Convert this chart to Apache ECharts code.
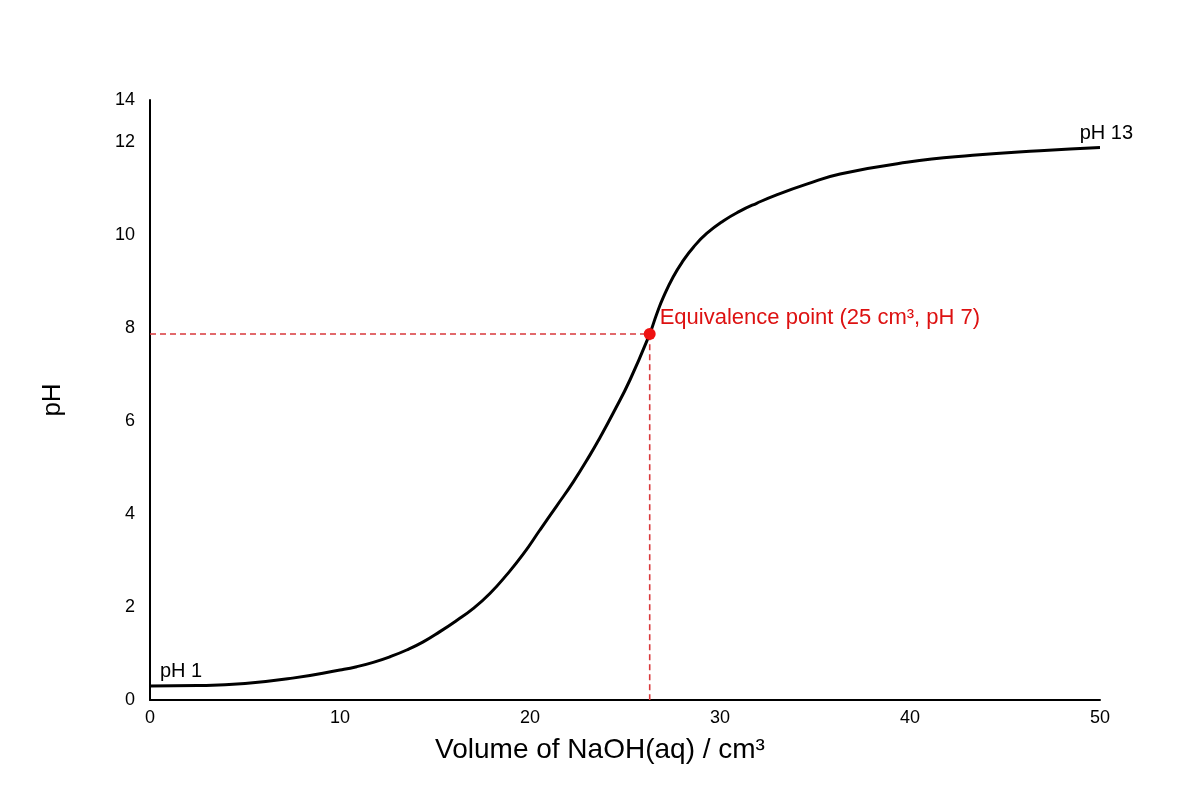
<!DOCTYPE html>
<html>
<head>
<meta charset="utf-8">
<script src="https://cdn.jsdelivr.net/npm/echarts@6/dist/echarts.min.js"></script>
<style>
  html, body { margin: 0; padding: 0; background: #fff; }
  #titrationChart { width: 1200px; height: 800px; }
</style>
</head>
<body>
<div id="titrationChart"></div>
<script>
// volume of NaOH added (cm3) and pH
var volumes = [0, 2.5, 5, 7.5, 10, 10.88, 11.75, 12.63, 13.51, 14.38, 15.26, 16.14, 17.02, 17.89, 18.77, 19.65, 20.53, 21.4, 22.28, 23.16, 23.68, 24.38, 25.26, 26.3, 26.67, 27.02, 27.54, 28.07, 28.59, 29.3, 30.17, 31.05, 31.93, 32.98, 34.56, 36.32, 39.83, 43.3, 46.84, 50];
var phValues = [0.30, 0.31, 0.355, 0.47, 0.645, 0.716, 0.81, 0.93, 1.075, 1.25, 1.47, 1.71, 1.97, 2.29, 2.69, 3.14, 3.66, 4.17, 4.69, 5.27, 5.64, 6.17, 6.88, 7.87, 8.30, 8.66, 9.10, 9.45, 9.73, 10.03, 10.30, 10.51, 10.68, 10.86, 11.09, 11.31, 11.56, 11.71, 11.81, 11.88];

// equivalence point as drawn
var equivPoint = [26.3, 7.87];
var equivText = 'Equivalence point (25 cm³, pH 7)';

var startText = 'pH 1';
var endText = 'pH 13';

var yMax = 12.9;
var yTopLabel = '14';

var curveData = volumes.map(function (v, i) { return [v, phValues[i]]; });

var titrationChart = echarts.init(document.getElementById('titrationChart'));
var titrationOption = {
    animation: false,
    textStyle: {
        fontFamily: 'Liberation Sans, Arial, sans-serif'
    },
    grid: {
        left: 150,
        right: 100,
        top: 100,
        bottom: 100
    },
    xAxis: {
        type: 'value',
        min: 0,
        max: 50,
        interval: 10,
        name: 'Volume of NaOH(aq) / cm³',
        nameLocation: 'middle',
        nameGap: 36,
        nameTextStyle: {
            fontSize: 28,
            color: '#000',
            padding: [0, 50, 0, 0]
        },
        axisLine: {
            onZero: false,
            lineStyle: {color: '#000', width: 2}
        },
        axisTick: {show: false},
        splitLine: {show: false},
        axisLabel: {
            fontSize: 18,
            color: '#000',
            margin: 9
        }
    },
    yAxis: {
        type: 'value',
        min: 0,
        max: yMax,
        interval: 2,
        name: 'pH',
        nameLocation: 'middle',
        nameGap: 84,
        nameTextStyle: {
            fontSize: 26,
            color: '#000'
        },
        axisLine: {
            show: true,
            onZero: false,
            lineStyle: {color: '#000', width: 2}
        },
        axisTick: {show: false},
        splitLine: {show: false},
        axisLabel: {
            fontSize: 18,
            color: '#000',
            margin: 15,
            formatter: function (v) {
                return v > 12 ? yTopLabel : String(v);
            }
        }
    },
    series: [
        {
            name: 'guides',
            type: 'line',
            data: [[0, equivPoint[1]], equivPoint, [equivPoint[0], 0]],
            symbol: 'none',
            silent: true,
            lineStyle: {color: '#d9393c', width: 1.6, type: [6, 4]},
            z: 1
        },
        {
            name: 'pH',
            type: 'line',
            smooth: 0.5,
            data: curveData,
            symbol: 'none',
            lineStyle: {color: '#000', width: 3},
            z: 2
        },
        {
            name: 'ends',
            type: 'scatter',
            symbolSize: 0,
            silent: true,
            itemStyle: {opacity: 1},
            data: [
                {
                    value: curveData[0],
                    label: {
                        show: true,
                        formatter: startText,
                        position: [10, -15],
                        align: 'left',
                        verticalAlign: 'middle',
                        fontSize: 20,
                        color: '#000'
                    }
                },
                {
                    value: curveData[curveData.length - 1],
                    label: {
                        show: true,
                        formatter: endText,
                        position: [33, -14],
                        align: 'right',
                        verticalAlign: 'middle',
                        fontSize: 20,
                        color: '#000'
                    }
                }
            ]
        },
        {
            name: 'equivalence',
            type: 'scatter',
            symbolSize: 12,
            itemStyle: {color: '#ee1111', opacity: 1},
            data: [equivPoint],
            label: {
                show: true,
                formatter: equivText,
                position: [16, -10],
                align: 'left',
                verticalAlign: 'middle',
                fontSize: 22,
                color: '#dd1111'
            },
            z: 3
        }
    ]
};
titrationChart.setOption(titrationOption);
</script>
</body>
</html>
